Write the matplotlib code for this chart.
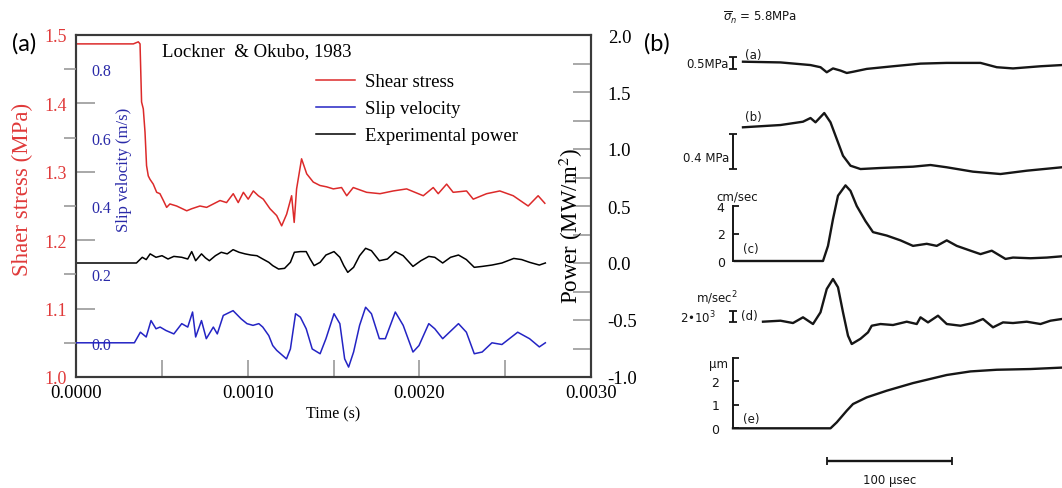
import numpy as np
import matplotlib
matplotlib.use('Agg')
import matplotlib.pyplot as plt
from matplotlib.ticker import MultipleLocator, FormatStrFormatter

# %% Data
# (a) Lockner & Okubo (1983), time in ms
shear_t = [0.0, 0.334, 0.363, 0.373, 0.382, 0.392, 0.402, 0.411, 0.421, 0.431,
           0.450, 0.470, 0.489, 0.509, 0.528, 0.547, 0.586, 0.645, 0.674, 0.722,
           0.761, 0.800, 0.839, 0.877, 0.916, 0.945, 0.975, 1.003, 1.033, 1.062,
           1.091, 1.130, 1.169, 1.198, 1.227, 1.256, 1.271, 1.285, 1.314, 1.344,
           1.382, 1.421, 1.460, 1.499, 1.547, 1.577, 1.615, 1.693, 1.771, 1.848,
           1.926, 2.023, 2.081, 2.110, 2.159, 2.197, 2.275, 2.314, 2.392, 2.469,
           2.547, 2.634, 2.692, 2.731]
shear_mpa = [1.487, 1.487, 1.490, 1.487, 1.402, 1.392, 1.358, 1.309, 1.294, 1.289,
             1.282, 1.270, 1.268, 1.258, 1.248, 1.253, 1.250, 1.243, 1.246, 1.250,
             1.248, 1.253, 1.258, 1.255, 1.268, 1.255, 1.270, 1.260, 1.272, 1.265,
             1.260, 1.246, 1.236, 1.221, 1.238, 1.265, 1.226, 1.275, 1.319, 1.297,
             1.285, 1.280, 1.278, 1.275, 1.277, 1.265, 1.277, 1.270, 1.268, 1.272,
             1.275, 1.265, 1.277, 1.268, 1.282, 1.270, 1.272, 1.260, 1.268, 1.272,
             1.265, 1.250, 1.265, 1.254]

slip_t = [0.0, 0.340, 0.375, 0.409, 0.437, 0.466, 0.490, 0.524, 0.570, 0.616,
          0.651, 0.679, 0.697, 0.731, 0.759, 0.800, 0.823, 0.858, 0.915, 0.962,
          0.996, 1.031, 1.065, 1.088, 1.123, 1.146, 1.169, 1.226, 1.249, 1.279,
          1.307, 1.341, 1.376, 1.422, 1.456, 1.503, 1.537, 1.565, 1.588, 1.617,
          1.652, 1.687, 1.721, 1.767, 1.802, 1.860, 1.906, 1.963, 1.998, 2.055,
          2.090, 2.136, 2.228, 2.274, 2.320, 2.366, 2.423, 2.481, 2.573, 2.642,
          2.699, 2.734]
slip_ms = [0.0, 0.0, 0.031, 0.017, 0.065, 0.041, 0.046, 0.036, 0.026, 0.056,
           0.046, 0.090, 0.017, 0.065, 0.012, 0.046, 0.026, 0.080, 0.094, 0.070,
           0.056, 0.051, 0.056, 0.046, 0.021, -0.008, -0.022, -0.047, -0.018, 0.085,
           0.075, 0.041, -0.018, -0.032, 0.012, 0.085, 0.056, -0.047, -0.071, -0.027,
           0.051, 0.104, 0.085, 0.012, 0.012, 0.090, 0.051, -0.027, -0.008, 0.056,
           0.041, 0.012, 0.056, 0.031, -0.032, -0.027, 0.0, -0.005, 0.031, 0.012,
           -0.012, 0.0]

power_t = [0.0, 0.352, 0.386, 0.409, 0.432, 0.466, 0.501, 0.536, 0.570, 0.616,
           0.651, 0.674, 0.697, 0.731, 0.754, 0.777, 0.812, 0.846, 0.881, 0.915,
           0.950, 0.985, 1.019, 1.054, 1.088, 1.123, 1.146, 1.180, 1.215, 1.249,
           1.272, 1.307, 1.341, 1.364, 1.387, 1.422, 1.456, 1.503, 1.537, 1.560,
           1.583, 1.617, 1.652, 1.687, 1.721, 1.767, 1.814, 1.860, 1.906, 1.963,
           2.009, 2.055, 2.090, 2.136, 2.182, 2.228, 2.274, 2.320, 2.366, 2.423,
           2.481, 2.550, 2.596, 2.642, 2.699, 2.734]
power_mw = [0.0, 0.0, 0.050, 0.030, 0.080, 0.050, 0.064, 0.035, 0.058, 0.050,
            0.035, 0.100, 0.020, 0.080, 0.045, 0.020, 0.064, 0.094, 0.080, 0.117,
            0.094, 0.080, 0.070, 0.064, 0.035, 0.006, -0.023, -0.053, -0.047, 0.006,
            0.094, 0.100, 0.100, 0.035, -0.023, 0.006, 0.070, 0.100, 0.050, -0.023,
            -0.082, -0.038, 0.064, 0.129, 0.108, 0.020, 0.035, 0.100, 0.064, -0.030,
            0.020, 0.058, 0.050, 0.0, 0.050, 0.070, 0.030, -0.038, -0.030, -0.018,
            0.0, 0.040, 0.030, 0.006, -0.018, 0.0]

# (b) traces, time in microseconds
tr_a_t = [8, 38, 62, 70, 75, 80, 86, 91, 96, 107, 128, 150, 171, 198, 211, 224, 246, 263]
tr_a = [0.0, -0.03, -0.14, -0.23, -0.44, -0.28, -0.37, -0.47, -0.42, -0.30,
        -0.19, -0.08, -0.05, -0.05, -0.23, -0.28, -0.19, -0.14]

tr_b_t = [8, 38, 56, 62, 66, 73, 78, 83, 88, 94, 102, 118, 144, 158, 171, 192, 214, 235, 263]
tr_b = [0.0, 0.026, 0.064, 0.106, 0.057, 0.163, 0.057, -0.134, -0.325, -0.439,
        -0.477, -0.465, -0.450, -0.431, -0.457, -0.507, -0.534, -0.496, -0.457]

tr_c_t = [1.6, 72, 76, 80, 84, 90, 94, 99, 106, 112, 123, 134, 144, 155, 163,
          171, 179, 190, 198, 207, 218, 224, 238, 251, 263]
tr_c = [0.0, 0.0, 1.1, 3.05, 4.75, 5.5, 5.1, 4.0, 2.9, 2.1, 1.85, 1.5, 1.1, 1.25,
        1.1, 1.5, 1.1, 0.75, 0.5, 0.75, 0.15, 0.25, 0.2, 0.25, 0.34]

tr_d_t = [24, 38, 48, 56, 64, 70, 75, 80, 84, 88, 92, 95, 102, 108, 111, 118, 128,
          139, 147, 150, 156, 164, 171, 182, 192, 200, 208, 216, 224, 235, 246, 254, 263]
tr_d = [-0.17, 0.0, -0.4, 0.58, -0.57, 1.44, 5.44, 7.15, 5.73, 1.44, -2.57, -4.0,
        -3.1, -2.0, -0.86, -0.57, -0.74, -0.17, -0.57, 0.58, -0.29, 0.86, -0.57,
        -0.86, -0.4, 0.29, -1.14, -0.29, -0.4, -0.17, -0.57, 0.0, 0.29]

tr_e_t = [0, 78, 83, 91, 96, 107, 123, 144, 171, 190, 211, 238, 263]
tr_e = [0.0, 0.0, 0.25, 0.74, 1.02, 1.3, 1.58, 1.9, 2.24, 2.39, 2.46, 2.49, 2.55]

# %% Figure setup
W, H = 1062, 489
plt.rcParams['font.family'] = 'Liberation Serif'
plt.rcParams['mathtext.fontset'] = 'stix'

RED = '#dc2a2a'
RED_TXT = '#e03a3a'
BLUE = '#2424c4'
BLUE_TXT = '#2a2aa8'
TICK = '#9a9a9a'
INK = '#161616'

fig = plt.figure(figsize=(W / 100, H / 100), dpi=100)


def box(x0, y0, x1, y1):
    # pixel box (top-left origin) -> figure fraction rect
    return [x0 / W, 1 - y1 / H, (x1 - x0) / W, (y1 - y0) / H]


def fpx(x, y):
    return x / W, 1 - y / H


# %% Panel (a)
ax = fig.add_axes(box(76, 36, 591, 378))
ax_p = ax.twinx()
ax_v = fig.add_axes(box(76, 36, 591, 378), frameon=False)
ax_v.patch.set_visible(False)

ln_s, = ax.plot(np.array(shear_t) * 1e-3, shear_mpa, color=RED, lw=1.1)
ln_p, = ax_p.plot(np.array(power_t) * 1e-3, power_mw, color='black', lw=1.1)
ln_v, = ax_v.plot(np.array(slip_t) * 1e-3, slip_ms, color=BLUE, lw=1.1)

ax.set_xlim(0, 0.003)
ax.set_ylim(1.0, 1.5)
ax_p.set_ylim(-1.0, 2.0)
ax_v.set_xlim(0, 0.003)
ax_v.set_ylim(-0.1, 0.9)

for a in (ax, ax_p):
    for sp in a.spines.values():
        sp.set_color('#3a3a3a')
        sp.set_linewidth(1.5)

ax.xaxis.set_major_locator(MultipleLocator(0.001))
ax.xaxis.set_minor_locator(MultipleLocator(0.0005))
ax.xaxis.set_major_formatter(FormatStrFormatter('%.4f'))
ax.tick_params(axis='x', which='both', direction='in', length=12, width=1.2,
               color=TICK, labelsize=13.5, pad=5)
ax.set_yticks(np.arange(1.0, 1.51, 0.1))
ax.yaxis.set_major_formatter(FormatStrFormatter('%.1f'))
ax.tick_params(axis='y', direction='in', length=14, width=1.2, color=TICK,
               labelcolor=RED_TXT, labelsize=13, pad=6.5)
ax.set_ylabel('Shaer stress (MPa)', color=RED_TXT, fontsize=16.5)
ax.yaxis.set_label_coords(-0.083, 0.55)
ax.set_xlabel('Time (s)', fontsize=11.5, labelpad=3)

ax_p.yaxis.set_major_locator(MultipleLocator(0.5))
ax_p.yaxis.set_minor_locator(MultipleLocator(0.25))
ax_p.yaxis.set_major_formatter(FormatStrFormatter('%.1f'))
ax_p.tick_params(axis='y', which='both', direction='in', length=13, width=1.2,
                 color=TICK, labelsize=13.5, pad=12)
ax_p.set_ylabel('Power (MW/m$^2$)', fontsize=16.5)
ax_p.yaxis.set_label_coords(0.934, 0.444)

ax_v.xaxis.set_visible(False)
ax_v.set_yticks([0.0, 0.2, 0.4, 0.6, 0.8])
ax_v.yaxis.set_major_formatter(FormatStrFormatter('%.1f'))
ax_v.tick_params(axis='y', direction='out', length=9, width=1.2, color=TICK,
                 labelcolor=BLUE_TXT, labelsize=11.5, pad=-34.5)
ax_v.set_ylabel('Slip velocity (m/s)', color=BLUE_TXT, fontsize=12)
ax_v.yaxis.set_label_coords(0.109, 0.608)

ax_v.text(0.167, 0.953, 'Lockner  & Okubo, 1983', transform=ax_v.transAxes,
          fontsize=13.5, va='center', ha='left')
ax_v.legend([ln_s, ln_v, ln_p],
            ['Shear stress', 'Slip velocity', 'Experimental power'],
            loc='upper left', bbox_to_anchor=(0.466, 0.888), frameon=False,
            fontsize=13.5, borderpad=0, borderaxespad=0, handlelength=2.1,
            handletextpad=0.5, labelspacing=0.52)

fig.text(*fpx(12, 44), '(a)', family='Lato', fontsize=17, va='center', ha='left')
fig.text(*fpx(644, 44), '(b)', family='Lato', fontsize=17, va='center', ha='left')

# %% Panel (b)
T0, T1 = 733, 1062
PX_PER_US = 1.25
sans = dict(family='DejaVu Sans', color=INK, fontsize=8.5)


def trace_axes(top, bottom, zero, ppu):
    a = fig.add_axes(box(T0, top, T1, bottom))
    a.patch.set_visible(False)
    for sp in a.spines.values():
        sp.set_visible(False)
    a.set_xlim(0, (T1 - T0) / PX_PER_US)
    a.set_ylim((zero - bottom) / ppu, (zero - top) / ppu)
    a.set_xticks([])
    a.set_yticks([])
    return a


def draw_trace(a, t, v):
    a.plot(t, v, color=INK, lw=1.7, clip_on=False, solid_joinstyle='round')


def scale_bar(a, mid, half):
    a.errorbar([0], [mid], yerr=[half], color=INK, lw=1.4, capsize=3,
               capthick=1.3, clip_on=False)


def value_axis(a, top, ticks, labels, pad):
    sp = a.spines['left']
    sp.set_visible(True)
    sp.set_bounds(0, top)
    sp.set_linewidth(1.4)
    sp.set_color(INK)
    a.set_yticks(ticks)
    a.set_yticklabels(labels)
    a.tick_params(axis='y', direction='in', length=4, width=1.3, color=INK,
                  labelsize=9, labelcolor=INK, pad=pad)
    for lb in a.get_yticklabels():
        lb.set_family('DejaVu Sans')


ax_a = trace_axes(45, 80, 62.7, 24.0)
draw_trace(ax_a, tr_a_t, tr_a)
scale_bar(ax_a, -0.05, 0.25)

ax_b = trace_axes(105, 180, 128.3, 87.5)
draw_trace(ax_b, tr_b_t, tr_b)
scale_bar(ax_b, -0.277, 0.2)

ax_c = trace_axes(180, 270, 262, 13.75)
draw_trace(ax_c, tr_c_t, tr_c)
value_axis(ax_c, 4, [0, 2, 4], ['0', '2', '4'], 6)

ax_d = trace_axes(270, 350, 321.7, 5.83)
draw_trace(ax_d, tr_d_t, tr_d)
scale_bar(ax_d, 0.72, 1.0)

ax_e = trace_axes(350, 440, 429.3, 23.8)
draw_trace(ax_e, tr_e_t, tr_e)
value_axis(ax_e, 2.94, [0, 1, 2, 2.94], ['0', '1', '2', ''], 10)

# 100 microsecond time bar
ax_t = trace_axes(445, 489, 461.7, 1.0)
ax_t.errorbar([75.2 + 50], [0], xerr=[50], color=INK, lw=1.7, capsize=3,
              capthick=1.3, clip_on=False)
ax_t.text(75.2 + 50, -18.5, '100 µsec', ha='center', va='center', **sans)

fig.text(*fpx(723, 18), r'$\overline{\sigma}_n$ = 5.8MPa', math_fontfamily='dejavusans',
         ha='left', va='center', **sans)
fig.text(*fpx(729, 65), '0.5MPa', ha='right', va='center', **sans)
fig.text(*fpx(745, 55), '(a)', ha='left', va='center', **sans)
fig.text(*fpx(745, 118), '(b)', ha='left', va='center', **sans)
fig.text(*fpx(729, 158), '0.4 MPa', ha='right', va='center', **sans)
fig.text(*fpx(737, 197), 'cm/sec', ha='center', va='center', **sans)
fig.text(*fpx(743, 250), '(c)', ha='left', va='center', **sans)
fig.text(*fpx(717, 298), r'm/sec$^2$', math_fontfamily='dejavusans',
         ha='center', va='center', **sans)
fig.text(*fpx(680, 318), r'2•10$^3$', math_fontfamily='dejavusans',
         ha='left', va='center', **sans)
fig.text(*fpx(741, 317), '(d)', ha='left', va='center', **sans)
fig.text(*fpx(719, 365), 'µm', ha='center', va='center', **sans)
fig.text(*fpx(743, 420), '(e)', ha='left', va='center', **sans)

fig.savefig('out.png', dpi=100)
